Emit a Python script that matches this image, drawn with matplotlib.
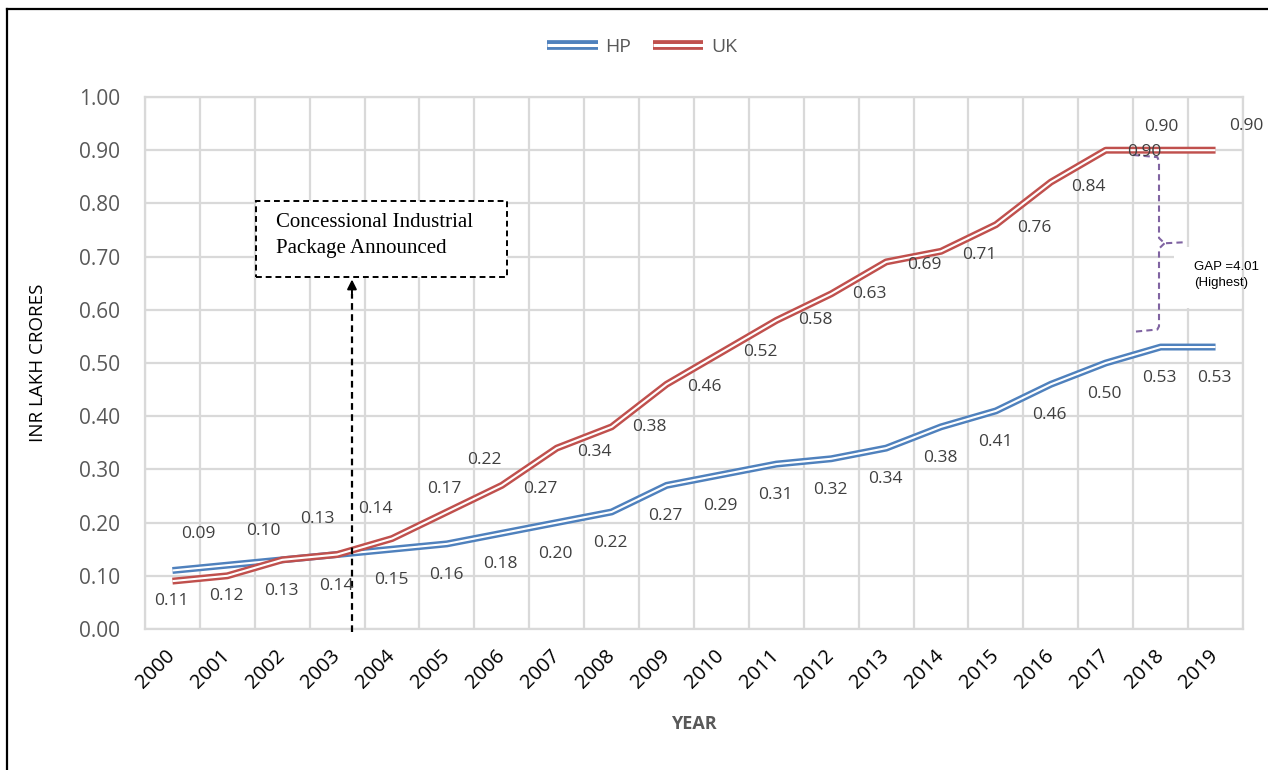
import matplotlib
matplotlib.use("Agg")
import matplotlib.pyplot as plt
import matplotlib.patheffects as pe
from matplotlib.lines import Line2D
from matplotlib.patches import Rectangle
import numpy as np

# ---- data -------------------------------------------------------------
years = [str(y) for y in range(2000, 2020)]
hp = [0.11, 0.12, 0.13, 0.14, 0.15, 0.16, 0.18, 0.20, 0.22, 0.27,
      0.29, 0.31, 0.32, 0.34, 0.38, 0.41, 0.46, 0.50, 0.53, 0.53]
uk = [0.09, 0.10, 0.13, 0.14, 0.17, 0.22, 0.27, 0.34, 0.38, 0.46,
      0.52, 0.58, 0.63, 0.69, 0.71, 0.76, 0.84, 0.90, 0.90, 0.90]
y_ticks = [0.0, 0.1, 0.2, 0.3, 0.4, 0.5, 0.6, 0.7, 0.8, 0.9, 1.0]
series_names = ["HP", "UK"]
note_text = "Concessional Industrial\nPackage Announced"
gap_text = "GAP =4.01\n(Highest)"
policy_year = 3.27          # category position of the announcement marker
gap_year = years.index("2018")

# ---- styling ----------------------------------------------------------
BLUE = "#4F81BD"
RED = "#C0504D"
PURPLE = "#8064A2"
GRID = "#d9d9d9"
FONT = "Open Sans"

# label offsets (pixels) relative to each point
hp_off = (-1, -31)
uk_dx = [26, 36, 35, 38, 52, 37, 38, 38, 38, 38,
         39, 39, 38, 38, 38, 38, 38, 39, 1, 31]
uk_dy = [47, 45, 41, 46, 50, 52, -4, -4, 0, -3,
         0, 0, 0, -3, -4, -3, -5, -2, 23, 24]


def double_stroke(color, outer, inner):
    """Path effects giving a hollow two-rule line in the given colour."""
    return dict(color="white", lw=inner, solid_capstyle="butt",
                path_effects=[pe.Stroke(linewidth=outer, foreground=color,
                                        capstyle="butt"),
                              pe.Normal()])


W, H = 1268, 770
fig = plt.figure(figsize=(W / 100, H / 100), dpi=100)
ax = fig.add_axes([145 / W, 1 - 629 / H, (1243 - 145) / W, (629 - 97) / H])

x = np.arange(len(years))
ax.set_xlim(-0.5, len(years) - 0.5)
ax.set_ylim(0, 1)

# grid
ax.set_axisbelow(True)
ax.set_yticks(y_ticks)
ax.set_yticklabels([f"{t:.2f}" for t in y_ticks])
ax.set_xticks(x)
ax.set_xticklabels(years)
ax.set_xticks(np.arange(-0.5, len(years), 1), minor=True)
ax.grid(which="minor", axis="x", color=GRID, lw=1.6)
ax.grid(which="major", axis="y", color=GRID, lw=1.6)
ax.tick_params(which="both", length=0)
for s in ax.spines.values():
    s.set_color(GRID)
    s.set_linewidth(1.6)

ax.tick_params(axis="y", pad=18, labelsize=15, labelcolor="#595959")
ax.tick_params(axis="x", pad=17, labelsize=14.5, labelcolor="black")
for lab in ax.get_yticklabels():
    lab.set_fontfamily(FONT)
for lab in ax.get_xticklabels():
    lab.set_fontfamily(FONT)
    lab.set_rotation(45)
    lab.set_ha("right")
    lab.set_va("center")
    lab.set_rotation_mode("anchor")

# double-stroke series lines
ax.plot(x, hp, zorder=3, **double_stroke(BLUE, 5.0, 1.5))
ax.plot(x, uk, zorder=3, **double_stroke(RED, 5.0, 1.5))

# data labels
for i, v in enumerate(hp):
    ax.annotate(f"{v:.2f}", (i, v), xytext=hp_off, textcoords="offset pixels",
                ha="center", va="center", fontsize=12.5, color="#404040",
                family=FONT, zorder=5)
for i, v in enumerate(uk):
    ax.annotate(f"{v:.2f}", (i, v), xytext=(uk_dx[i], uk_dy[i]),
                textcoords="offset pixels", ha="center", va="center",
                fontsize=12.5, color="#404040", family=FONT, zorder=5,
                annotation_clip=False)

# announcement note
ax.add_patch(Rectangle((1.52, 0.662), 4.57, 0.143, facecolor="white",
                       edgecolor="black", lw=1.4, ls=(0, (3, 2)), zorder=4))
ax.text(1.88, 0.7395, note_text, ha="left", va="center", fontsize=15,
        family="Liberation Serif", linespacing=1.45, zorder=5)
ax.plot([policy_year, policy_year], [-0.006, 0.63], color="black", lw=1.6,
        ls=(0, (3, 2)), clip_on=False, zorder=4)
ax.annotate("", xy=(policy_year, 0.657), xytext=(policy_year, 0.625),
            arrowprops=dict(arrowstyle="-|>", color="black", lw=1.4,
                            mutation_scale=14, shrinkA=0, shrinkB=0),
            zorder=4)

# gap brace between the two series
bx = gap_year - 0.03
top = uk[gap_year] - 0.013
bot = hp[gap_year] + 0.033
mid = (top + bot) / 2
brace_kw = dict(color=PURPLE, lw=1.5, ls=(0, (3, 2)), zorder=4)
ax.plot([bx - 0.47, bx - 0.03, bx, bx, bx + 0.1, bx + 0.47],
        [top + 0.004, top, top - 0.008, mid + 0.01, mid, mid + 0.002], **brace_kw)
ax.plot([bx + 0.1, bx, bx, bx - 0.03, bx - 0.43],
        [mid, mid - 0.01, bot + 0.006, bot, bot - 0.004], **brace_kw)
ax.add_patch(Rectangle((18.25, 0.603), 1.25, 0.115, facecolor="white",
                       edgecolor="none", zorder=2.5, clip_on=False))
ax.text(18.61, 0.665, gap_text, ha="left", va="center", fontsize=9.5,
        family="Liberation Sans", linespacing=1.45, zorder=5)

# axis titles
ax.set_ylabel("INR LAKH CRORES", fontsize=13.5, family=FONT, color="black")
ax.yaxis.set_label_coords(-0.089, 0.5)
ax.set_xlabel("YEAR", fontsize=13, family=FONT, color="#595959", fontweight="bold")
ax.xaxis.set_label_coords(0.5, -0.161)

# legend with wider two-rule keys
handles = [Line2D([], [], label=series_names[0], **double_stroke(BLUE, 7.0, 2.2)),
           Line2D([], [], label=series_names[1], **double_stroke(RED, 7.0, 2.2))]
leg = fig.legend(handles=handles, loc="center",
                 bbox_to_anchor=(0.5 + 8 / W, 1 - 47 / H),
                 ncol=2, frameon=False, handlelength=2.6, handletextpad=0.4,
                 columnspacing=1.1, prop={"family": FONT, "size": 14})
for t in leg.get_texts():
    t.set_color("#595959")

# outer frame
fig.add_artist(Line2D([7 / W, 1], [1 - 9 / H, 1 - 9 / H], transform=fig.transFigure,
                      color="black", lw=1.6))
fig.add_artist(Line2D([7 / W, 7 / W], [0, 1 - 9 / H], transform=fig.transFigure,
                      color="black", lw=1.6))

fig.savefig("out.png", dpi=100)
